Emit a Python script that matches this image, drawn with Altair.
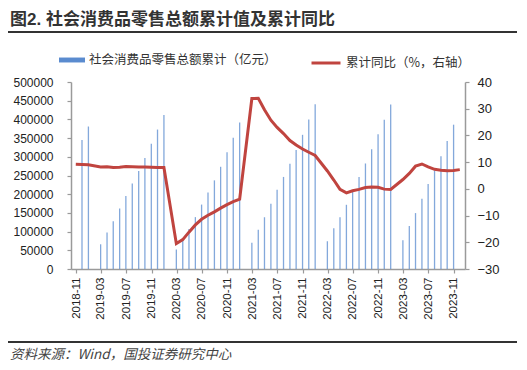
import altair as alt
import pandas as pd

TITLE = "图2. 社会消费品零售总额累计值及累计同比"
SOURCE = "资料来源：Wind，国投证券研究中心"
BAR_LABEL = "社会消费品零售总额累计（亿元）"
LINE_LABEL = "累计同比（%，右轴）"

bar_months = [
    "2018-11", "2018-12",
    "2019-02", "2019-03", "2019-04", "2019-05", "2019-06", "2019-07", "2019-08", "2019-09", "2019-10", "2019-11", "2019-12",
    "2020-02", "2020-03", "2020-04", "2020-05", "2020-06", "2020-07", "2020-08", "2020-09", "2020-10", "2020-11", "2020-12",
    "2021-02", "2021-03", "2021-04", "2021-05", "2021-06", "2021-07", "2021-08", "2021-09", "2021-10", "2021-11", "2021-12",
    "2022-02", "2022-03", "2022-04", "2022-05", "2022-06", "2022-07", "2022-08", "2022-09", "2022-10", "2022-11", "2022-12",
    "2023-02", "2023-03", "2023-04", "2023-05", "2023-06", "2023-07", "2023-08", "2023-09", "2023-10",
]
bar_values = [
    345029, 380987,
    66064, 97790, 127570, 161900, 195210, 228315, 262179, 296674, 334713, 372872, 411649,
    52130, 78580, 106758, 138730, 172256, 204500, 237000, 273324, 312000, 351000, 391981,
    70241, 105221, 138400, 174319, 211904, 246165, 281580, 318057, 358762, 399664, 440823,
    74426, 108659, 138192, 171689, 210432, 246268, 282135, 320305, 360575, 399190, 439733,
    77067, 114922, 149483, 187636, 227588, 263445, 301247, 342107, 385880,
]

line_months = [
    "2018-10", "2018-11", "2018-12",
    "2019-02", "2019-03", "2019-04", "2019-05", "2019-06", "2019-07", "2019-08", "2019-09", "2019-10", "2019-11", "2019-12",
    "2020-02", "2020-03", "2020-04", "2020-05", "2020-06", "2020-07", "2020-08", "2020-09", "2020-10", "2020-11", "2020-12",
    "2021-02", "2021-03", "2021-04", "2021-05", "2021-06", "2021-07", "2021-08", "2021-09", "2021-10", "2021-11", "2021-12",
    "2022-02", "2022-03", "2022-04", "2022-05", "2022-06", "2022-07", "2022-08", "2022-09", "2022-10", "2022-11", "2022-12",
    "2023-02", "2023-03", "2023-04", "2023-05", "2023-06", "2023-07", "2023-08", "2023-09", "2023-10", "2023-11",
]
line_values = [
    9.2, 9.1, 9.0,
    8.2, 8.3, 8.0, 8.1, 8.4, 8.3, 8.2, 8.2, 8.1, 8.0, 8.0,
    -20.5, -19.0, -16.2, -13.5, -11.4, -9.9, -8.6, -7.2, -5.9, -4.8, -3.9,
    33.8, 33.9, 29.6, 25.7, 23.0, 20.7, 18.1, 16.4, 14.9, 13.7, 12.5,
    6.7, 3.3, -0.2, -1.5, -0.7, -0.2, 0.5, 0.7, 0.6, -0.1, -0.2,
    3.5, 5.8, 8.5, 9.3, 8.2, 7.3, 7.0, 6.8, 6.9, 7.2,
]

tick_months = ["2018-11", "2019-03", "2019-07", "2019-11", "2020-03", "2020-07", "2020-11",
               "2021-03", "2021-07", "2021-11", "2022-03", "2022-07", "2022-11",
               "2023-03", "2023-07", "2023-11"]


def month_end(m):
    d = pd.to_datetime(m + "-01") + pd.offsets.MonthEnd(0)
    return d.strftime("%Y-%m-%dT00:00:00")


def dt(m):
    y, mo = m.split("-")
    return alt.DateTime(year=int(y), month=int(mo), date=1)


bars_df = pd.DataFrame({"date": [month_end(m) for m in bar_months], "value": bar_values, "s": BAR_LABEL})
line_df = pd.DataFrame({"date": [month_end(m) for m in line_months], "value": line_values, "s": LINE_LABEL})

AXIS_GRAY = "#9a9a9a"
LABEL_COLOR = "#222222"

x_scale = alt.Scale(domain=[dt("2018-11"), dt("2023-12")])
x_axis = alt.Axis(
    values=[dt(m) for m in tick_months], format="%Y-%m", labelAngle=-90,
    tickSize=4, labelPadding=4, domainColor=AXIS_GRAY, tickColor=AXIS_GRAY,
    domainWidth=1.5, tickWidth=1.2, labelFont="Liberation Sans", labelFontSize=11.5,
    labelColor=LABEL_COLOR, grid=False, title=None, labelOverlap=False,
)

bars = alt.Chart(bars_df).mark_bar(size=1.3, fillOpacity=0.75).encode(
    x=alt.X("date:T", scale=x_scale, axis=x_axis),
    y=alt.Y("value:Q", scale=alt.Scale(domain=[0, 500000], nice=False),
            axis=alt.Axis(values=list(range(0, 500001, 50000)), format="d", tickSize=4,
                          labelPadding=14, domainColor=AXIS_GRAY, tickColor=AXIS_GRAY,
                          domainWidth=1.5, tickWidth=1.2, labelFont="Liberation Sans",
                          labelFontSize=12, labelColor=LABEL_COLOR, grid=False, title=None)),
    fill=alt.Fill("s:N", scale=alt.Scale(domain=[BAR_LABEL], range=["#5A8BCF"]),
                  legend=alt.Legend(title=None, orient="none", legendX=-12, legendY=-35,
                                    symbolType="M-1,-0.19H1V0.19H-1Z", symbolSize=676,
                                    symbolStrokeWidth=0, symbolOpacity=1,
                                    labelFont="Noto Sans CJK SC",
                                    labelFontSize=12.5, labelOffset=4, labelColor="#333333",
                                    labelLimit=400)),
)

line = alt.Chart(line_df).mark_line(strokeWidth=3).encode(
    x=alt.X("date:T", scale=x_scale, axis=x_axis),
    y=alt.Y("value:Q", scale=alt.Scale(domain=[-30, 40], nice=False),
            axis=alt.Axis(values=list(range(-30, 41, 10)), orient="right", tickSize=4,
                          labelPadding=8, domainColor=AXIS_GRAY, tickColor=AXIS_GRAY,
                          domainWidth=1.5, tickWidth=1.2, labelFont="Liberation Sans",
                          labelFontSize=13, labelColor=LABEL_COLOR, grid=False, title=None)),
    stroke=alt.Stroke("s:N", scale=alt.Scale(domain=[LINE_LABEL], range=["#C0443F"]),
                      legend=alt.Legend(title=None, orient="none", legendX=239, legendY=-35,
                                        symbolType="stroke", symbolSize=841,
                                        symbolStrokeWidth=3, labelFont="Noto Sans CJK SC",
                                        labelFontSize=12.5, labelOffset=4, labelColor="#333333",
                                        labelLimit=400)),
)

one = pd.DataFrame({"t": [TITLE], "src": [SOURCE]})

title_text = alt.Chart(one).mark_text(
    align="left", baseline="alphabetic", font="Liberation Sans, Noto Sans CJK SC",
    fontSize=17, fontWeight="bold", color="#333333",
).encode(text="t:N", x=alt.value(-61), y=alt.value(-57))

source_text = alt.Chart(one).mark_text(
    align="left", baseline="middle", font="Noto Sans CJK SC", fontSize=13.5,
    fontStyle="italic", color="#444444",
).encode(text="src:N", x=alt.value(-61), y=alt.value(273))

top_rule = alt.Chart(one).mark_rule(color="#333333", strokeWidth=2).encode(
    x=alt.value(-63), x2=alt.value(446), y=alt.value(-50))
bottom_rule = alt.Chart(one).mark_rule(color="#333333", strokeWidth=2).encode(
    x=alt.value(-63), x2=alt.value(446), y=alt.value(260))

chart = alt.layer(bars, line, title_text, source_text, top_rule, bottom_rule).resolve_scale(
    y="independent"
).properties(
    width=394, height=187,
    autosize=alt.AutoSizeParams(type="none"),
    padding={"left": 63, "top": 74, "right": 54, "bottom": 93},
    background="white",
).configure_view(stroke=None)

chart.save("out.html", embed_options={"renderer": "svg", "actions": False})
